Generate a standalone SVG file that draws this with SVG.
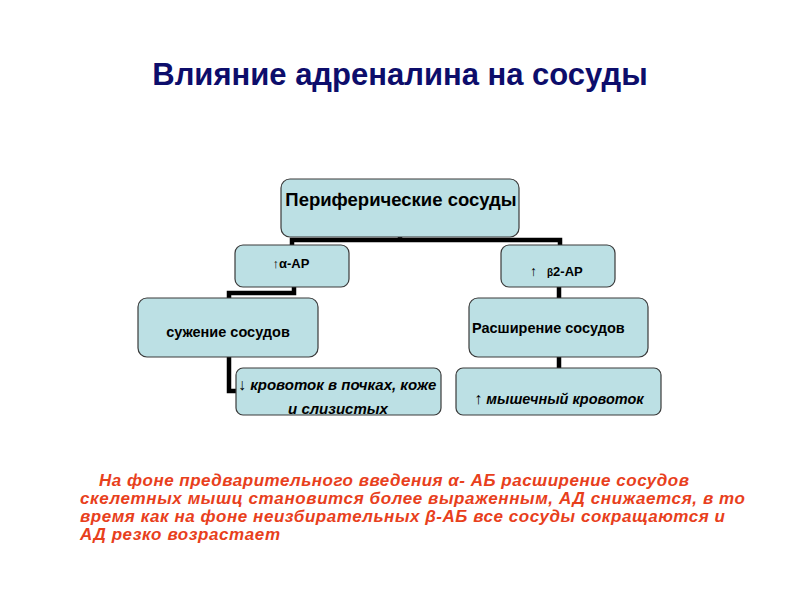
<svg xmlns="http://www.w3.org/2000/svg" width="800" height="600" viewBox="0 0 800 600">
<style>
.box{fill:#BCE0E4;stroke:#3a3a3a;stroke-width:1.2}
.t{font-family:"Liberation Sans",Arial,sans-serif;font-weight:bold;fill:#000}
.c{stroke:#000;stroke-width:4.5;fill:none;stroke-linecap:square}
.r{font-family:"Liberation Sans",Arial,sans-serif;font-weight:bold;font-style:italic;fill:#E8401C;font-size:17px}
</style>
<rect width="800" height="600" fill="#fff"/>
<text x="400" y="85" text-anchor="middle" class="t" style="fill:#0D0D6B;font-size:31px">Влияние адреналина на сосуды</text>
<g id="connectors">
<path class="c" d="M400 237 V240 M292 245 V240 H560 V245"/>
<path class="c" d="M294 287 V293 H229 V298"/>
<path class="c" d="M229 357 V391 H235"/>
<path class="c" d="M559 287 V298"/>
<path class="c" d="M559 357 V368"/>
</g>
<g id="n1"><rect class="box" x="281" y="179" width="238" height="58" rx="9"/><text class="t" x="401" y="206" text-anchor="middle" font-size="18.5">Периферические сосуды</text></g>
<g id="n2"><rect class="box" x="235" y="245" width="114" height="42" rx="8"/><text class="t" x="291" y="268" text-anchor="middle" font-size="13"><tspan font-weight="normal">↑</tspan>α-АР</text></g>
<g id="n3"><rect class="box" x="501" y="245" width="114" height="42" rx="8"/><text class="t" x="530" y="276" font-size="13"><tspan font-weight="normal" font-size="14">↑</tspan><tspan dx="10" font-size="10">β</tspan>2-АР</text></g>
<g id="n4"><rect class="box" x="138" y="298" width="180" height="59" rx="9"/><text class="t" x="228" y="337" text-anchor="middle" font-size="14.5">сужение сосудов</text></g>
<g id="n5"><rect class="box" x="469" y="298" width="179" height="59" rx="9"/><text class="t" x="472" y="333" font-size="14.5">Расширение сосудов</text></g>
<g id="n6"><rect class="box" x="236" y="368" width="205" height="47" rx="7"/><text class="t" x="238" y="390" font-size="15" font-style="italic"><tspan font-style="normal" font-weight="normal" font-size="16">↓</tspan> кровоток в почках, коже</text><text class="t" x="338" y="414" text-anchor="middle" font-size="15" font-style="italic">и слизистых</text></g>
<g id="n7"><rect class="box" x="456" y="368" width="205" height="47" rx="7"/><text class="t" x="559" y="404" text-anchor="middle" font-size="14.5" font-style="italic"><tspan font-style="normal" font-weight="normal" font-size="16">↑</tspan> мышечный кровоток</text></g>
<text class="r" x="99" y="486" textLength="590">На фоне предварительного введения α- АБ расширение сосудов</text>
<text class="r" x="80" y="504" textLength="665">скелетных мышц становится  более выраженным, АД снижается,  в то</text>
<text class="r" x="80" y="522" textLength="645">время как на фоне неизбирательных β-АБ все сосуды сокращаются  и</text>
<text class="r" x="80" y="540" textLength="200">АД резко возрастает</text>
</svg>
